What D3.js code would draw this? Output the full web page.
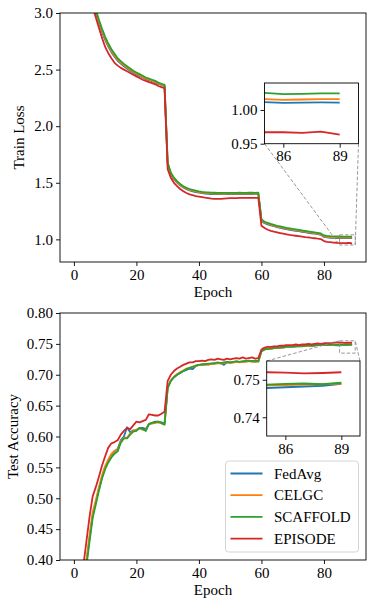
<!DOCTYPE html>
<html>
<head>
<meta charset="utf-8">
<script src="https://cdnjs.cloudflare.com/ajax/libs/d3/7.8.5/d3.min.js"></script>
<style>
  body { margin: 0; background: #fff; }
  svg { display: block; font-family: "Liberation Serif", "Times New Roman", Times, serif; }
  .axis text { font-size: 15px; font-family: "Liberation Serif", "Times New Roman", serif; fill: #000; }
  .axis line { stroke: #000; stroke-width: 0.9; }
  .axis path { display: none; }
</style>
</head>
<body>
<div id="chart-area"></div>
<script>
// series
const seriesNames = ["FedAvg", "CELGC", "SCAFFOLD", "EPISODE"]
const seriesColors = ["#1f77b4", "#ff7f0e", "#2ca02c", "#d62728"]
const epochs = d3.range(0, 90)

const lossFedAvg = [4.76, 4.26, 3.88, 3.605, 3.395, 3.24, 3.11, 3.0, 2.912, 2.832, 2.763, 2.703, 2.654, 2.614, 2.578, 2.553, 2.53, 2.51, 2.49, 2.473, 2.458, 2.443, 2.43, 2.416, 2.406, 2.397, 2.387, 2.374, 2.364, 2.354,
  1.665, 1.575, 1.532, 1.502, 1.478, 1.458, 1.443, 1.433, 1.425, 1.418, 1.412, 1.408, 1.405, 1.403, 1.401, 1.4, 1.4, 1.399, 1.399, 1.4, 1.4, 1.4, 1.401, 1.4, 1.401, 1.401, 1.4, 1.401, 1.402, 1.401,
  1.163, 1.143, 1.133, 1.124, 1.116, 1.108, 1.102, 1.096, 1.09, 1.085, 1.08, 1.076, 1.072, 1.067, 1.063, 1.058, 1.054, 1.05, 1.046, 1.04, 1.022, 1.017, 1.014, 1.013, 1.012, 1.0115, 1.0105, 1.011, 1.0112, 1.011]
const lossCELGC = [4.78, 4.28, 3.90, 3.62, 3.41, 3.255, 3.125, 3.015, 2.925, 2.845, 2.775, 2.715, 2.665, 2.625, 2.588, 2.562, 2.538, 2.518, 2.498, 2.48, 2.465, 2.45, 2.436, 2.422, 2.412, 2.402, 2.392, 2.378, 2.368, 2.358,
  1.67, 1.58, 1.537, 1.507, 1.483, 1.463, 1.448, 1.438, 1.43, 1.423, 1.417, 1.413, 1.41, 1.408, 1.406, 1.405, 1.404, 1.404, 1.403, 1.404, 1.405, 1.404, 1.404, 1.405, 1.405, 1.404, 1.405, 1.406, 1.405, 1.405,
  1.168, 1.148, 1.138, 1.129, 1.121, 1.113, 1.107, 1.101, 1.095, 1.09, 1.085, 1.081, 1.077, 1.072, 1.068, 1.063, 1.059, 1.055, 1.051, 1.045, 1.027, 1.022, 1.019, 1.018, 1.017, 1.016, 1.015, 1.0155, 1.016, 1.016]
const lossSCAFFOLD = [4.80, 4.30, 3.92, 3.64, 3.43, 3.27, 3.14, 3.03, 2.94, 2.86, 2.79, 2.73, 2.68, 2.64, 2.60, 2.575, 2.55, 2.53, 2.51, 2.49, 2.475, 2.46, 2.445, 2.43, 2.42, 2.41, 2.40, 2.385, 2.375, 2.365,
  1.68, 1.59, 1.545, 1.515, 1.49, 1.47, 1.455, 1.445, 1.437, 1.43, 1.424, 1.42, 1.417, 1.415, 1.413, 1.412, 1.411, 1.41, 1.41, 1.411, 1.411, 1.41, 1.411, 1.412, 1.411, 1.411, 1.412, 1.412, 1.411, 1.412,
  1.175, 1.155, 1.145, 1.136, 1.128, 1.12, 1.114, 1.108, 1.102, 1.097, 1.092, 1.088, 1.084, 1.079, 1.075, 1.07, 1.066, 1.062, 1.058, 1.052, 1.035, 1.03, 1.028, 1.027, 1.026, 1.0255, 1.0235, 1.024, 1.0245, 1.0245]
const lossEPISODE = [4.60, 4.12, 3.76, 3.50, 3.31, 3.17, 3.06, 2.96, 2.87, 2.78, 2.70, 2.645, 2.60, 2.56, 2.535, 2.515, 2.50, 2.485, 2.47, 2.455, 2.44, 2.425, 2.41, 2.40, 2.39, 2.38, 2.37, 2.355, 2.345, 2.335,
  1.62, 1.545, 1.50, 1.47, 1.445, 1.425, 1.41, 1.398, 1.39, 1.383, 1.378, 1.373, 1.368, 1.364, 1.36, 1.358, 1.357, 1.357, 1.36, 1.362, 1.364, 1.365, 1.365, 1.366, 1.366, 1.366, 1.367, 1.367, 1.366, 1.367,
  1.12, 1.10, 1.085, 1.075, 1.068, 1.062, 1.056, 1.05, 1.045, 1.04, 1.036, 1.032, 1.028, 1.024, 1.02, 1.017, 1.013, 1.01, 1.006, 1.003, 0.985, 0.978, 0.975, 0.972, 0.97, 0.967, 0.967, 0.966, 0.968, 0.9635]

const accFedAvg = [0.225, 0.285, 0.325, 0.36, 0.395, 0.435, 0.472, 0.494, 0.515, 0.535, 0.55, 0.561, 0.57, 0.576, 0.58, 0.594, 0.6, 0.615, 0.607, 0.61, 0.61, 0.614, 0.614, 0.612, 0.62, 0.622, 0.624, 0.624, 0.623, 0.621,
  0.679, 0.69, 0.696, 0.70, 0.703, 0.706, 0.708, 0.71, 0.709, 0.714, 0.716, 0.716, 0.717, 0.717, 0.718, 0.718, 0.719, 0.719, 0.716, 0.72, 0.72, 0.72, 0.721, 0.721, 0.721, 0.722, 0.722, 0.722, 0.721, 0.722,
  0.738, 0.741, 0.742, 0.742, 0.743, 0.743, 0.744, 0.744, 0.745, 0.745, 0.745, 0.746, 0.746, 0.746, 0.747, 0.747, 0.747, 0.747, 0.748, 0.748, 0.748, 0.748, 0.748, 0.748, 0.7478, 0.7478, 0.748, 0.7482, 0.7484, 0.7489]
const accCELGC = [0.23, 0.29, 0.33, 0.365, 0.40, 0.44, 0.477, 0.497, 0.518, 0.537, 0.552, 0.563, 0.572, 0.577, 0.578, 0.592, 0.598, 0.598, 0.605, 0.609, 0.611, 0.613, 0.611, 0.61, 0.621, 0.621, 0.622, 0.623, 0.621, 0.62,
  0.68, 0.691, 0.697, 0.701, 0.704, 0.707, 0.71, 0.711, 0.713, 0.714, 0.716, 0.716, 0.717, 0.716, 0.718, 0.718, 0.719, 0.718, 0.719, 0.72, 0.719, 0.72, 0.721, 0.72, 0.721, 0.721, 0.722, 0.721, 0.722, 0.721,
  0.738, 0.741, 0.742, 0.742, 0.743, 0.743, 0.744, 0.744, 0.745, 0.745, 0.746, 0.746, 0.746, 0.747, 0.747, 0.747, 0.747, 0.748, 0.748, 0.748, 0.748, 0.748, 0.749, 0.748, 0.7485, 0.7485, 0.7486, 0.7487, 0.7488, 0.749]
const accSCAFFOLD = [0.22, 0.28, 0.32, 0.355, 0.39, 0.43, 0.468, 0.49, 0.512, 0.532, 0.547, 0.558, 0.566, 0.572, 0.576, 0.59, 0.597, 0.597, 0.603, 0.608, 0.609, 0.614, 0.612, 0.609, 0.62, 0.622, 0.623, 0.624, 0.622, 0.619,
  0.678, 0.69, 0.696, 0.70, 0.703, 0.706, 0.709, 0.711, 0.713, 0.715, 0.716, 0.717, 0.717, 0.718, 0.718, 0.719, 0.72, 0.719, 0.72, 0.721, 0.72, 0.721, 0.722, 0.721, 0.722, 0.722, 0.723, 0.722, 0.723, 0.722,
  0.738, 0.741, 0.742, 0.743, 0.743, 0.744, 0.744, 0.745, 0.745, 0.746, 0.746, 0.746, 0.747, 0.747, 0.747, 0.748, 0.747, 0.748, 0.748, 0.748, 0.749, 0.748, 0.749, 0.749, 0.7485, 0.7487, 0.7489, 0.749, 0.7488, 0.7492]
const accEPISODE = [0.25, 0.30, 0.34, 0.39, 0.43, 0.47, 0.503, 0.518, 0.535, 0.553, 0.568, 0.582, 0.589, 0.591, 0.594, 0.603, 0.609, 0.614, 0.612, 0.618, 0.624, 0.623, 0.625, 0.627, 0.636, 0.635, 0.634, 0.634, 0.637, 0.64,
  0.69, 0.70, 0.706, 0.71, 0.713, 0.716, 0.718, 0.72, 0.72, 0.722, 0.722, 0.723, 0.722, 0.724, 0.725, 0.724, 0.726, 0.725, 0.724, 0.726, 0.725, 0.726, 0.727, 0.726, 0.728, 0.726, 0.727, 0.728, 0.726, 0.727,
  0.741, 0.744, 0.745, 0.745, 0.746, 0.746, 0.747, 0.747, 0.748, 0.748, 0.748, 0.749, 0.748, 0.749, 0.749, 0.75, 0.749, 0.75, 0.751, 0.75, 0.751, 0.751, 0.751, 0.752, 0.752, 0.752, 0.7519, 0.7517, 0.7518, 0.752]

// ticks
const epochTicks = [0, 20, 40, 60, 80]
const lossTicks = [1.0, 1.5, 2.0, 2.5, 3.0]
const accTicks = [0.40, 0.45, 0.50, 0.55, 0.60, 0.65, 0.70, 0.75, 0.80]
const insetEpochTicks = [86, 89]
const lossInsetTicks = [0.95, 1.00]
const accInsetTicks = [0.74, 0.75]

const WIDTH = 374
const HEIGHT = 608
const PLOT = { LEFT: 60, RIGHT: 366 }

const svg = d3.select("#chart-area").append("svg")
  .attr("width", WIDTH)
  .attr("height", HEIGHT)
const defs = svg.append("defs")

const x = d3.scaleLinear()
  .domain([-4.45, 93.45])
  .range([PLOT.LEFT, PLOT.RIGHT])

const line = (xs, ys) => d3.line()
  .x((d, i) => xs(epochs[i]))
  .y(d => ys(d))

function drawPanel(p) {
  const y = d3.scaleLinear().domain(p.yDomain).range([p.bottom, p.top])
  const g = svg.append("g")

  defs.append("clipPath").attr("id", p.id + "-clip")
    .append("rect")
    .attr("x", PLOT.LEFT).attr("y", p.top)
    .attr("width", PLOT.RIGHT - PLOT.LEFT).attr("height", p.bottom - p.top)

  // axes
  g.append("g")
    .attr("class", "axis")
    .attr("transform", `translate(0, ${p.bottom})`)
    .call(d3.axisBottom(x).tickValues(epochTicks).tickSize(4).tickPadding(3).tickFormat(d3.format("d")))

  g.append("g")
    .attr("class", "axis")
    .attr("transform", `translate(${PLOT.LEFT}, 0)`)
    .call(d3.axisLeft(y).tickValues(p.yTicks).tickSize(4).tickPadding(3).tickFormat(d3.format(p.fmt)))

  // lines
  g.append("g")
    .attr("clip-path", `url(#${p.id}-clip)`)
    .selectAll("path")
    .data(p.series)
    .enter().append("path")
      .attr("d", d => line(x, y)(d))
      .attr("fill", "none")
      .attr("stroke", (d, i) => seriesColors[i])
      .attr("stroke-width", 1.8)
      .attr("stroke-linejoin", "round")

  g.append("rect")
    .attr("x", PLOT.LEFT).attr("y", p.top)
    .attr("width", PLOT.RIGHT - PLOT.LEFT).attr("height", p.bottom - p.top)
    .attr("fill", "none").attr("stroke", "#000").attr("stroke-width", 0.9)

  // labels
  g.append("text")
    .attr("x", (PLOT.LEFT + PLOT.RIGHT) / 2)
    .attr("y", p.bottom + 35)
    .attr("text-anchor", "middle")
    .attr("font-size", "15px")
    .text("Epoch")

  g.append("text")
    .attr("transform", `translate(${p.labelX}, ${(p.top + p.bottom) / 2}) rotate(-90)`)
    .attr("text-anchor", "middle")
    .attr("font-size", "15px")
    .text(p.label)

  drawInset(p, y, p.inset)
  return g
}

function drawInset(p, y, ins) {
  const xi = d3.scaleLinear().domain([85, 90]).range([ins.left, ins.right])
  const yi = d3.scaleLinear().domain(ins.yDomain).range([ins.bottom, ins.top])

  // zoom box on the main plot
  const bx0 = x(85), bx1 = x(90), by0 = y(ins.yDomain[1]), by1 = y(ins.yDomain[0])
  const dash = { stroke: "#8c8c8c", width: 0.9, dash: "3.5,2" }
  svg.append("rect")
    .attr("x", bx0).attr("y", by0)
    .attr("width", bx1 - bx0).attr("height", by1 - by0)
    .attr("fill", "none").attr("stroke", dash.stroke)
    .attr("stroke-width", dash.width).attr("stroke-dasharray", dash.dash)

  const corner = {
    ll: [[ins.left, ins.bottom], [bx0, by1]],
    lr: [[ins.right, ins.bottom], [bx1, by1]],
    ul: [[ins.left, ins.top], [bx0, by0]],
    ur: [[ins.right, ins.top], [bx1, by0]]
  }
  ins.connect.forEach(c => {
    svg.append("line")
      .attr("x1", corner[c][0][0]).attr("y1", corner[c][0][1])
      .attr("x2", corner[c][1][0]).attr("y2", corner[c][1][1])
      .attr("stroke", dash.stroke).attr("stroke-width", dash.width)
      .attr("stroke-dasharray", dash.dash)
  })

  const g = svg.append("g")
  g.append("rect")
    .attr("x", ins.left).attr("y", ins.top)
    .attr("width", ins.right - ins.left).attr("height", ins.bottom - ins.top)
    .attr("fill", "#fff")

  defs.append("clipPath").attr("id", p.id + "-inset-clip")
    .append("rect")
    .attr("x", ins.left).attr("y", ins.top)
    .attr("width", ins.right - ins.left).attr("height", ins.bottom - ins.top)

  g.append("g")
    .attr("clip-path", `url(#${p.id}-inset-clip)`)
    .selectAll("path")
    .data(p.series)
    .enter().append("path")
      .attr("d", d => line(xi, yi)(d))
      .attr("fill", "none")
      .attr("stroke", (d, i) => seriesColors[i])
      .attr("stroke-width", 1.8)

  g.append("g")
    .attr("class", "axis")
    .attr("transform", `translate(0, ${ins.bottom})`)
    .call(d3.axisBottom(xi).tickValues(insetEpochTicks).tickSize(4).tickPadding(3).tickFormat(d3.format("d")))

  g.append("g")
    .attr("class", "axis")
    .attr("transform", `translate(${ins.left}, 0)`)
    .call(d3.axisLeft(yi).tickValues(ins.yTicks).tickSize(4).tickPadding(3).tickFormat(d3.format(".2f")))

  g.append("rect")
    .attr("x", ins.left).attr("y", ins.top)
    .attr("width", ins.right - ins.left).attr("height", ins.bottom - ins.top)
    .attr("fill", "none").attr("stroke", "#000").attr("stroke-width", 0.9)
}

// Train loss
drawPanel({
  id: "loss", top: 13, bottom: 262,
  yDomain: [0.8, 3.0], yTicks: lossTicks, fmt: ".1f",
  label: "Train Loss", labelX: 24,
  series: [lossFedAvg, lossCELGC, lossSCAFFOLD, lossEPISODE],
  inset: { left: 264.5, right: 358.5, top: 83, bottom: 143.7,
    yDomain: [0.95, 1.04], yTicks: lossInsetTicks, connect: ["ll", "lr"] }
})

// Test accuracy
drawPanel({
  id: "acc", top: 313, bottom: 560,
  yDomain: [0.4, 0.8], yTicks: accTicks, fmt: ".2f",
  label: "Test Accuracy", labelX: 18,
  series: [accFedAvg, accCELGC, accSCAFFOLD, accEPISODE],
  inset: { left: 266.7, right: 360, top: 361, bottom: 436,
    yDomain: [0.735, 0.755], yTicks: accInsetTicks, connect: ["ul", "ur"] }
})

// Legend
const legend = svg.append("g").attr("transform", "translate(225.5, 461)")
legend.append("rect")
  .attr("width", 133).attr("height", 91)
  .attr("rx", 3)
  .attr("fill", "#fff").attr("fill-opacity", 0.85)
  .attr("stroke", "#d0d0d0").attr("stroke-width", 0.9)

const items = legend.selectAll(".item")
  .data(seriesNames)
  .enter().append("g")
    .attr("class", "item")
    .attr("transform", (d, i) => `translate(0, ${12.5 + i * 21.7})`)

items.append("line")
  .attr("x1", 5).attr("x2", 37)
  .attr("stroke", (d, i) => seriesColors[i])
  .attr("stroke-width", 1.8)

items.append("text")
  .attr("x", 48.5)
  .attr("y", 5)
  .attr("font-size", "15px")
  .text(d => d)
</script>
</body>
</html>
